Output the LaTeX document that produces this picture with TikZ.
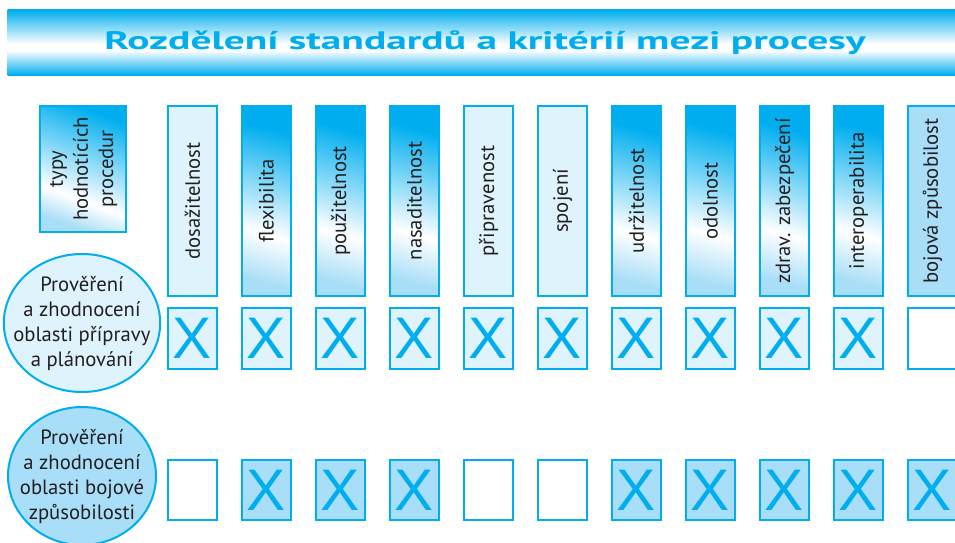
\documentclass[tikz,border=0pt]{standalone}
\usepackage{fontspec}
\setmainfont{PT Sans}
\newfontfamily\crossfont{Liberation Sans}
\usepackage{xcolor}
\usetikzlibrary{shapes.geometric,positioning}

\definecolor{krcyan}{HTML}{00AEEF}
\definecolor{krlight}{HTML}{DFF3FC}
\definecolor{krmid}{HTML}{A8DEF7}
\definecolor{krtext}{HTML}{231F20}

\pgfdeclareverticalshading{barshade}{100bp}{color(0bp)=(krcyan); color(25bp)=(krcyan); color(44bp)=(white); color(49bp)=(white); color(75bp)=(krcyan); color(100bp)=(krcyan)}
\pgfdeclareverticalshading{hdrshade}{100bp}{color(0bp)=(krmid); color(25bp)=(krmid); color(40bp)=(white); color(72bp)=(krcyan); color(100bp)=(krcyan)}
\pgfdeclareverticalshading{typshade}{100bp}{color(0bp)=(krmid); color(25bp)=(krmid); color(37bp)=(white); color(75bp)=(krcyan); color(100bp)=(krcyan)}

\begin{document}
\begin{tikzpicture}[
    x=0.75pt, y=-0.75pt,
    node distance=7.5pt and 17pt,
    titlebar/.style={shading=barshade, minimum width=716pt, minimum height=48.75pt, inner sep=0pt, text=krcyan, font=\bfseries\fontsize{19}{19}\selectfont},
    hdr/.style={draw=krcyan, line width=1.5pt, minimum width=37pt, minimum height=142.5pt, inner sep=0pt, text=krtext, font=\fontsize{15.5}{18.75}\selectfont},
    hdrlight/.style={hdr, fill=krlight},
    hdrgrad/.style={hdr, shading=hdrshade, shading angle=-15},
    hdrmid/.style={hdr, fill=krmid},
    typbox/.style={hdr, shading=typshade, shading angle=-20, minimum width=64.5pt, minimum height=94.5pt},
    cell/.style={draw=krcyan, line width=1.5pt, minimum width=37pt, minimum height=45.5pt, inner sep=0pt, text=krcyan, font=\crossfont\fontsize{44}{44}\selectfont},
    celllight/.style={cell, fill=krlight},
    cellmid/.style={cell, fill=krmid},
    cellempty/.style={cell, fill=white},
    area/.style={draw=krcyan, line width=1.5pt, ellipse, minimum width=111pt, minimum height=103.5pt, inner sep=-10pt, align=center, text=krtext, font=\fontsize{15.5}{18.75}\selectfont}
]
\useasboundingbox (0,0) rectangle (955,542);

    \node[titlebar] (titulek) at (485,42.5) {\resizebox{571pt}{\height}{Rozdělení standardů a kritérií mezi procesy}};

    \node[typbox] (typy) at (83,169) {\rotatebox{90}{\begin{tabular}{@{}c@{}}typy\\hodnotících\\procedur\end{tabular}}};

    % kriteria
    \node[hdrlight] (dosazit) at (192.5,201) {\rotatebox{90}{dosažitelnost}};
    \node[hdrgrad, right=of dosazit] (flexib) {\rotatebox{90}{flexibilita}};
    \node[hdrgrad, right=of flexib] (pouzit) {\rotatebox{90}{použitelnost}};
    \node[hdrgrad, right=of pouzit] (nasad) {\rotatebox{90}{nasaditelnost}};
    \node[hdrlight, right=of nasad] (priprav) {\rotatebox{90}{připravenost}};
    \node[hdrlight, right=of priprav] (spojeni) {\rotatebox{90}{spojení}};
    \node[hdrgrad, right=of spojeni] (udrzit) {\rotatebox{90}{udržitelnost}};
    \node[hdrgrad, right=of udrzit] (odol) {\rotatebox{90}{odolnost}};
    \node[hdrgrad, right=of odol] (zdrav) {\rotatebox{90}{zdrav. zabezpečení}};
    \node[hdrgrad, right=of zdrav] (interop) {\rotatebox{90}{interoperabilita}};
    \node[hdrmid, right=of interop] (bojzp) {\rotatebox{90}{bojová způsobilost}};

    % priprava a planovani
    \node[area, fill=krlight] (planarea) at (82,323) {Prověření\\a zhodnocení\\oblasti přípravy\\a plánování};
    \node[celllight, below=of dosazit] (dosazitplan) {X};
    \node[celllight, below=of flexib] (flexibplan) {X};
    \node[celllight, below=of pouzit] (pouzitplan) {X};
    \node[celllight, below=of nasad] (nasadplan) {X};
    \node[celllight, below=of priprav] (pripravplan) {X};
    \node[celllight, below=of spojeni] (spojeniplan) {X};
    \node[celllight, below=of udrzit] (udrzitplan) {X};
    \node[celllight, below=of odol] (odolplan) {X};
    \node[celllight, below=of zdrav] (zdravplan) {X};
    \node[celllight, below=of interop] (interopplan) {X};
    \node[cellempty, below=of bojzp] (bojzpplan) {};

    % bojova zpusobilost
    \node[area, fill=krmid] (bojarea) at (82,476) {Prověření\\a zhodnocení\\oblasti bojové\\způsobilosti};
    \node[cellempty, below=66.75pt of dosazitplan] (dosazitboj) {};
    \node[cellmid, below=66.75pt of flexibplan] (flexibboj) {X};
    \node[cellmid, below=66.75pt of pouzitplan] (pouzitboj) {X};
    \node[cellmid, below=66.75pt of nasadplan] (nasadboj) {X};
    \node[cellempty, below=66.75pt of pripravplan] (pripravboj) {};
    \node[cellempty, below=66.75pt of spojeniplan] (spojeniboj) {};
    \node[cellmid, below=66.75pt of udrzitplan] (udrzitboj) {X};
    \node[cellmid, below=66.75pt of odolplan] (odolboj) {X};
    \node[cellmid, below=66.75pt of zdravplan] (zdravboj) {X};
    \node[cellmid, below=66.75pt of interopplan] (interopboj) {X};
    \node[cellmid, below=66.75pt of bojzpplan] (bojzpboj) {X};

\end{tikzpicture}
\end{document}
